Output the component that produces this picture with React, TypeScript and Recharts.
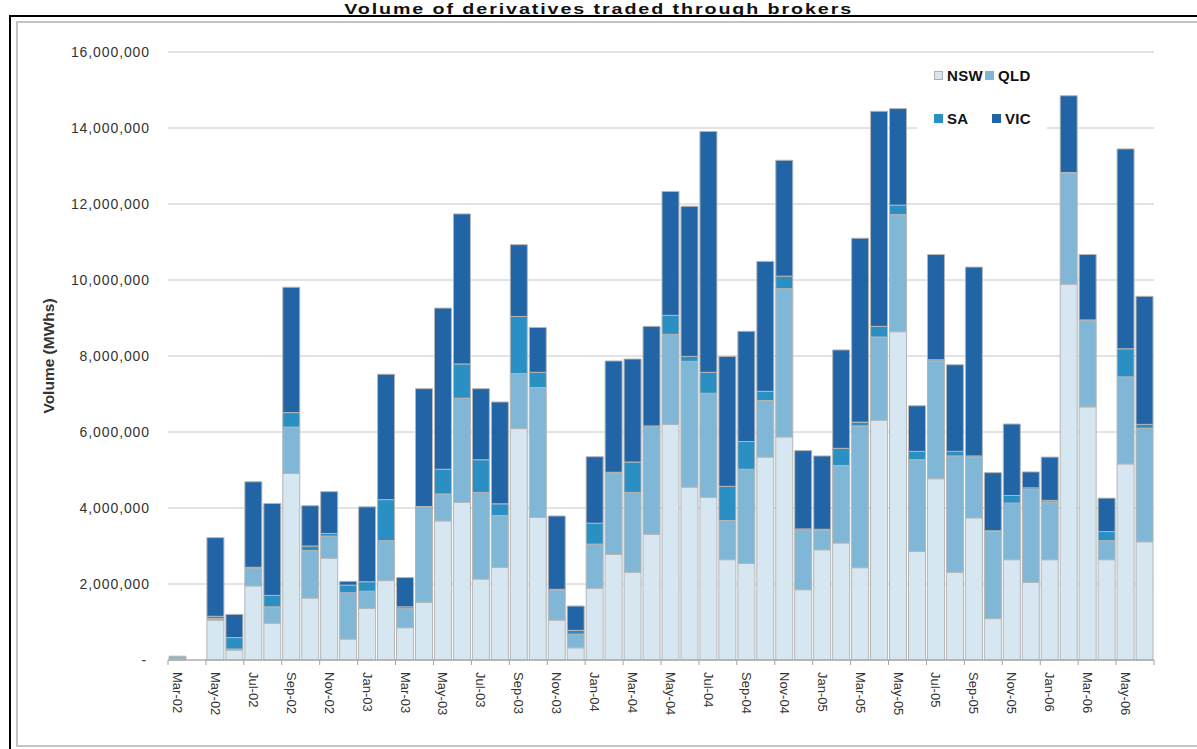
import { Bar, BarChart, CartesianGrid, Legend, XAxis, YAxis } from "recharts";

const months = [
  "Mar-02", "Apr-02", "May-02", "Jun-02", "Jul-02", "Aug-02", "Sep-02", "Oct-02", "Nov-02", "Dec-02",
  "Jan-03", "Feb-03", "Mar-03", "Apr-03", "May-03", "Jun-03", "Jul-03", "Aug-03", "Sep-03", "Oct-03",
  "Nov-03", "Dec-03", "Jan-04", "Feb-04", "Mar-04", "Apr-04", "May-04", "Jun-04", "Jul-04", "Aug-04",
  "Sep-04", "Oct-04", "Nov-04", "Dec-04", "Jan-05", "Feb-05", "Mar-05", "Apr-05", "May-05", "Jun-05",
  "Jul-05", "Aug-05", "Sep-05", "Oct-05", "Nov-05", "Dec-05", "Jan-06", "Feb-06", "Mar-06", "Apr-06",
  "May-06", "Jun-06",
];

// MWh per month
const nsw = [
  30000, 0, 1050000, 260000, 1950000, 970000, 4910000, 1630000, 2680000, 550000,
  1360000, 2090000, 850000, 1520000, 3660000, 4150000, 2130000, 2440000, 6090000, 3750000,
  1050000, 320000, 1890000, 2780000, 2310000, 3310000, 6200000, 4550000, 4280000, 2640000,
  2540000, 5340000, 5870000, 1850000, 2900000, 3080000, 2430000, 6310000, 8640000, 2860000,
  4770000, 2310000, 3740000, 1090000, 2640000, 2040000, 2640000, 9890000, 6660000, 2640000,
  5160000, 3110000,
];
const qld = [
  70000, 0, 40000, 30000, 460000, 430000, 1220000, 1250000, 580000, 1220000,
  450000, 1050000, 500000, 2500000, 710000, 2740000, 2280000, 1360000, 1450000, 3420000,
  790000, 360000, 1160000, 2140000, 2100000, 2820000, 2370000, 3310000, 2740000, 1030000,
  2480000, 1490000, 3900000, 1570000, 520000, 2040000, 3730000, 2190000, 3080000, 2410000,
  3100000, 3060000, 1600000, 2290000, 1490000, 2450000, 1520000, 2920000, 2270000, 500000,
  2290000, 2990000,
];
const sa = [
  0, 0, 60000, 300000, 30000, 300000, 380000, 120000, 70000, 200000,
  250000, 1080000, 50000, 20000, 650000, 900000, 860000, 310000, 1500000, 400000,
  20000, 100000, 550000, 20000, 800000, 30000, 500000, 130000, 550000, 900000,
  730000, 240000, 330000, 30000, 20000, 450000, 100000, 280000, 250000, 220000,
  30000, 120000, 30000, 20000, 200000, 40000, 40000, 20000, 20000, 240000,
  740000, 100000,
];
const vic = [
  0, 0, 2070000, 610000, 2250000, 2420000, 3300000, 1060000, 1100000, 100000,
  1970000, 3300000, 770000, 3100000, 4240000, 3950000, 1870000, 2680000, 1890000, 1180000,
  1930000, 640000, 1750000, 2930000, 2710000, 2620000, 3260000, 3950000, 6340000, 3420000,
  2900000, 3420000, 3050000, 2060000, 1930000, 2590000, 4840000, 5660000, 2540000, 1200000,
  2770000, 2280000, 4970000, 1530000, 1880000, 420000, 1140000, 2020000, 1720000, 880000,
  5260000, 3370000,
];

const yTicks = [0, 2000000, 4000000, 6000000, 8000000, 10000000, 12000000, 14000000, 16000000];

const series = [
  { key: "NSW", fill: "#d6e7f2" },
  { key: "QLD", fill: "#80b7d7" },
  { key: "SA", fill: "#2a8fc3" },
  { key: "VIC", fill: "#2265a7" },
];

const data = months.map((month, i) => ({
  month,
  NSW: nsw[i],
  QLD: qld[i],
  SA: sa[i],
  VIC: vic[i],
}));

const W = 1197;
const H = 749;
const MARGIN = { top: 52, right: 43, left: 68, bottom: 29 };
const Y_AXIS_W = 100;
const X_AXIS_H = 60;
const X_TICK_GAP = 12;
const PLOT_W = W - MARGIN.left - Y_AXIS_W - MARGIN.right;
const BAND = PLOT_W / months.length;
const PLOT_MID_Y = MARGIN.top + (H - MARGIN.top - MARGIN.bottom - X_AXIS_H) / 2;
const FONT = '"Liberation Sans", Arial, sans-serif';

function MonthTick(props: any) {
  const { x, y, payload } = props;
  const idx = months.indexOf(payload.value);
  const axisY = y - X_TICK_GAP;
  const edges = [x - BAND / 2];
  if (idx === months.length - 2) edges.push(x + BAND * 1.5);
  return (
    <g>
      {edges.map((ex) => (
        <line key={ex} x1={ex} x2={ex} y1={axisY} y2={axisY + 5} stroke="#a0a0a0" />
      ))}
      <text
        transform={`translate(${x},${y}) rotate(90)`}
        textAnchor="start"
        dominantBaseline="central"
        fontFamily={FONT}
        fontSize={13}
        fill="#333"
      >
        {payload.value}
      </text>
    </g>
  );
}

function VolumeTick(props: any) {
  const { x, y, payload } = props;
  const label = payload.value === 0 ? "-" : payload.value.toLocaleString("en-US");
  return (
    <text
      x={payload.value === 0 ? x - 3 : x}
      y={y}
      textAnchor="end"
      dominantBaseline="central"
      fontFamily={FONT}
      fontSize={14}
      letterSpacing={0.9}
      fill="#333"
    >
      {label}
    </text>
  );
}

function YLabel() {
  return (
    <text
      x={48}
      y={PLOT_MID_Y}
      transform={`rotate(-90 48 ${PLOT_MID_Y})`}
      textAnchor="middle"
      dominantBaseline="central"
      fontFamily={FONT}
      fontSize={15.5}
      fontWeight="bold"
      fill="#333"
    >
      Volume (MWhs)
    </text>
  );
}

const legendSpots: Record<string, { sx: number; tx: number; cy: number }> = {
  NSW: { sx: 17, tx: 30, cy: 16 },
  QLD: { sx: 68, tx: 81, cy: 16 },
  SA: { sx: 17, tx: 30, cy: 59 },
  VIC: { sx: 75, tx: 88, cy: 59 },
};

function LegendBox() {
  return (
    <div style={{ position: "relative", width: 130, height: 76, background: "#fff" }}>
      {series.map((s) => {
        const p = legendSpots[s.key];
        return (
          <div key={s.key}>
            <div
              style={{
                position: "absolute",
                left: p.sx,
                top: p.cy - 5,
                width: 9,
                height: 9,
                boxSizing: "border-box",
                background: s.fill,
                border: s.key === "NSW" ? "1px solid #b0b0b0" : "none",
              }}
            />
            <div
              style={{
                position: "absolute",
                left: p.tx,
                top: p.cy - 9,
                fontFamily: FONT,
                fontSize: 15,
                fontWeight: "bold",
                lineHeight: "18px",
                letterSpacing: 0.3,
                color: "#111",
              }}
            >
              {s.key}
            </div>
          </div>
        );
      })}
    </div>
  );
}

export default function App() {
  return (
    <div style={{ position: "absolute", left: 0, top: 0, width: W, height: H, background: "#fff", overflow: "hidden" }}>
      <div style={{ position: "absolute", left: 9, top: 15, width: 1300, height: 800, borderLeft: "2px solid #000", borderTop: "2px solid #000" }} />
      <div
        style={{
          position: "absolute",
          left: 16,
          top: 21,
          width: 1300,
          height: 722,
          borderLeft: "2px solid #c4c4c4",
          borderTop: "2px solid #c4c4c4",
          borderBottom: "2px solid #c4c4c4",
        }}
      />
      <div
        style={{
          position: "absolute",
          left: 0,
          width: W,
          top: 0,
          textAlign: "center",
          fontFamily: FONT,
          fontWeight: "bold",
          fontSize: 15.5,
          lineHeight: "17.5px",
          letterSpacing: 1.5,
          color: "#111",
          transform: "scaleX(1.27)",
          transformOrigin: "598px 0",
        }}
      >
        Volume of derivatives traded through brokers
      </div>
      <div style={{ position: "absolute", left: 0, top: 0 }}>
        <BarChart width={W} height={H} data={data} margin={MARGIN} barCategoryGap={1}>
          <CartesianGrid vertical={false} stroke="#c8c8c8" />
          <XAxis
            dataKey="month"
            interval={1}
            height={X_AXIS_H}
            tickLine={false}
            tickSize={0}
            tickMargin={X_TICK_GAP}
            axisLine={{ stroke: "#a0a0a0" }}
            tick={<MonthTick />}
          />
          <YAxis
            width={Y_AXIS_W}
            domain={[0, 16000000]}
            ticks={yTicks}
            interval={0}
            axisLine={false}
            tickLine={false}
            tickSize={0}
            tickMargin={18}
            tick={<VolumeTick />}
            label={<YLabel />}
          />
          <Legend
            layout="horizontal"
            verticalAlign="middle"
            align="center"
            content={<LegendBox />}
            wrapperStyle={{ left: 917, top: 60, width: 130, height: 76 }}
          />
          {series.map((s) => (
            <Bar
              key={s.key}
              dataKey={s.key}
              stackId="vol"
              fill={s.fill}
              stroke="#b5b5b5"
              strokeWidth={1}
              isAnimationActive={false}
            />
          ))}
        </BarChart>
      </div>
    </div>
  );
}
